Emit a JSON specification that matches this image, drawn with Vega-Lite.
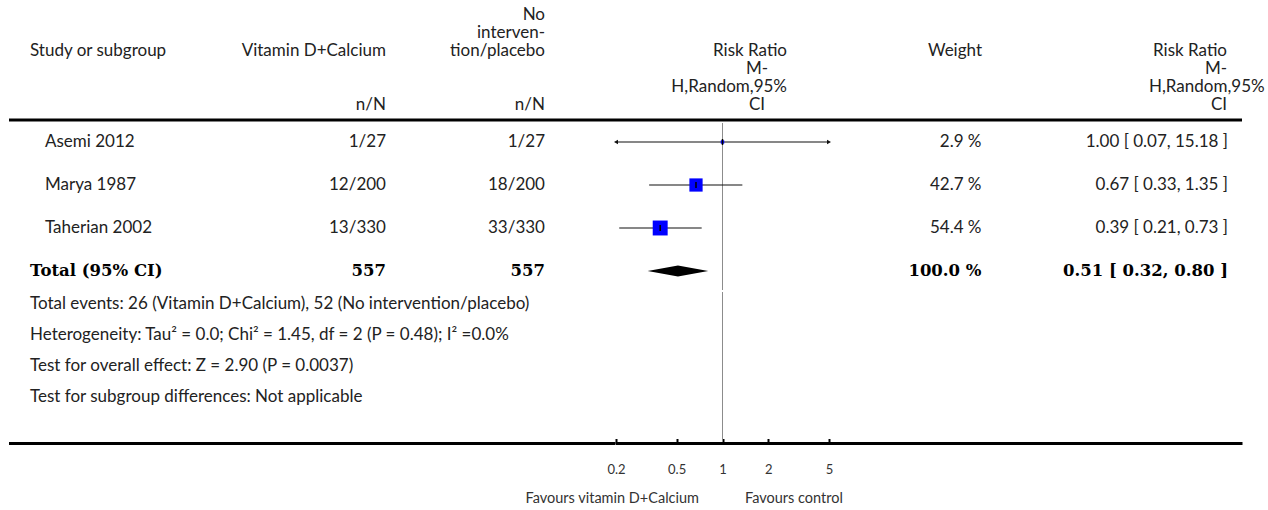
{
  "$schema": "https://vega.github.io/schema/vega-lite/v6.json",
  "padding": {"left": 7, "top": 0, "right": 0, "bottom": 0},
  "background": "white",
  "config": {"view": {"stroke": null}, "font": "Lato", "concat": {"spacing": 0}},
  "datasets": {
    "header": [
      {"col": "study", "line": 3, "text": "Study or subgroup"},
      {"col": "vitd", "line": 3, "text": "Vitamin D+Calcium"},
      {"col": "vitd", "line": 6, "text": "n/N"},
      {"col": "ctrl", "line": 1, "text": "No"},
      {"col": "ctrl", "line": 2, "text": "interven-"},
      {"col": "ctrl", "line": 3, "text": "tion/placebo"},
      {"col": "ctrl", "line": 6, "text": "n/N"},
      {"col": "forest", "line": 3, "text": "Risk Ratio"},
      {"col": "forest", "line": 4, "text": "M-"},
      {"col": "forest", "line": 5, "text": "H,Random,95%"},
      {"col": "forest", "line": 6, "text": "CI"},
      {"col": "weight", "line": 3, "text": "Weight"},
      {"col": "rr", "line": 3, "text": "Risk Ratio"},
      {"col": "rr", "line": 4, "text": "M-"},
      {"col": "rr", "line": 5, "text": "H,Random,95%"},
      {"col": "rr", "line": 6, "text": "CI"}
    ],
    "studies": [
      {"study": "Asemi 2012", "total": false, "n1": "1/27", "n2": "1/27", "rr": 1.0, "lo": 0.07, "hi": 15.18, "weight": 2.9, "wtext": "2.9 %", "ci": "1.00 [ 0.07, 15.18 ]"},
      {"study": "Marya 1987", "total": false, "n1": "12/200", "n2": "18/200", "rr": 0.67, "lo": 0.33, "hi": 1.35, "weight": 42.7, "wtext": "42.7 %", "ci": "0.67 [ 0.33, 1.35 ]"},
      {"study": "Taherian 2002", "total": false, "n1": "13/330", "n2": "33/330", "rr": 0.39, "lo": 0.21, "hi": 0.73, "weight": 54.4, "wtext": "54.4 %", "ci": "0.39 [ 0.21, 0.73 ]"},
      {"study": "Total (95% CI)", "total": true, "n1": "557", "n2": "557", "rr": 0.51, "lo": 0.32, "hi": 0.8, "weight": 100, "wtext": "100.0 %", "ci": "0.51 [ 0.32, 0.80 ]"}
    ],
    "notes": [
      {"line": 1, "text": "Total events: 26 (Vitamin D+Calcium), 52 (No intervention/placebo)"},
      {"line": 2, "text": "Heterogeneity: Tau² = 0.0; Chi² = 1.45, df = 2 (P = 0.48); I² =0.0%"},
      {"line": 3, "text": "Test for overall effect: Z = 2.90 (P = 0.0037)"},
      {"line": 4, "text": "Test for subgroup differences: Not applicable"}
    ],
    "favours": [
      {"kind": "favours", "side": "left", "text": "Favours vitamin D+Calcium"},
      {"kind": "favours", "side": "right", "text": "Favours control"}
    ]
  },
  "vconcat": [
    {
      "hconcat": [
        {"width": 21, "height": 120, "layer": [
          {"data": {"values": [{}]}, "mark": {"type": "rule", "color": "#000", "strokeWidth": 3}, "encoding": {"y": {"value": "height"}}}
        ]},
        {"width": 210, "height": 120, "layer": [
          {"data": {"values": [{}]}, "mark": {"type": "rule", "color": "#000", "strokeWidth": 3}, "encoding": {"y": {"value": "height"}}},
          {"data": {"name": "header"}, "transform": [{"filter": "datum.col == 'study'"}], "mark": {"type": "text", "align": "left", "baseline": "middle", "font": "Lato", "fontSize": 17, "color": "#222"}, "encoding": {"x": {"value": 0}, "y": {"field": "line", "type": "ordinal", "scale": {"type": "point", "domain": [1, 2, 3, 4, 5, 6], "padding": 0.861}, "axis": null}, "text": {"field": "text"}}}
        ]},
        {"width": 146, "height": 120, "layer": [
          {"data": {"values": [{}]}, "mark": {"type": "rule", "color": "#000", "strokeWidth": 3}, "encoding": {"y": {"value": "height"}}},
          {"data": {"name": "header"}, "transform": [{"filter": "datum.col == 'vitd'"}], "mark": {"type": "text", "align": "right", "baseline": "middle", "font": "Lato", "fontSize": 17, "color": "#222"}, "encoding": {"x": {"value": "width"}, "y": {"field": "line", "type": "ordinal", "scale": {"type": "point", "domain": [1, 2, 3, 4, 5, 6], "padding": 0.861}, "axis": null}, "text": {"field": "text"}}}
        ]},
        {"width": 159, "height": 120, "layer": [
          {"data": {"values": [{}]}, "mark": {"type": "rule", "color": "#000", "strokeWidth": 3}, "encoding": {"y": {"value": "height"}}},
          {"data": {"name": "header"}, "transform": [{"filter": "datum.col == 'ctrl'"}], "mark": {"type": "text", "align": "right", "baseline": "middle", "font": "Lato", "fontSize": 17, "color": "#222"}, "encoding": {"x": {"value": "width"}, "y": {"field": "line", "type": "ordinal", "scale": {"type": "point", "domain": [1, 2, 3, 4, 5, 6], "padding": 0.861}, "axis": null}, "text": {"field": "text"}}}
        ]},
        {"width": 182, "height": 120, "layer": [
          {"data": {"values": [{}]}, "mark": {"type": "rule", "color": "#000", "strokeWidth": 3}, "encoding": {"y": {"value": "height"}}}
        ]},
        {"width": 60, "height": 120, "layer": [
          {"data": {"values": [{}]}, "mark": {"type": "rule", "color": "#000", "strokeWidth": 3}, "encoding": {"y": {"value": "height"}}},
          {"data": {"name": "header"}, "transform": [{"filter": "datum.col == 'forest' && (datum.line == 3 || datum.line == 5)"}], "mark": {"type": "text", "align": "right", "baseline": "middle", "font": "Lato", "fontSize": 17, "color": "#222"}, "encoding": {"x": {"value": "width"}, "y": {"field": "line", "type": "ordinal", "scale": {"type": "point", "domain": [1, 2, 3, 4, 5, 6], "padding": 0.861}, "axis": null}, "text": {"field": "text"}}},
          {"data": {"name": "header"}, "transform": [{"filter": "datum.col == 'forest' && (datum.line == 4 || datum.line == 6)"}], "mark": {"type": "text", "align": "center", "baseline": "middle", "font": "Lato", "fontSize": 17, "color": "#222"}, "encoding": {"y": {"field": "line", "type": "ordinal", "scale": {"type": "point", "domain": [1, 2, 3, 4, 5, 6], "padding": 0.861}, "axis": null}, "text": {"field": "text"}}}
        ]},
        {"width": 195, "height": 120, "layer": [
          {"data": {"values": [{}]}, "mark": {"type": "rule", "color": "#000", "strokeWidth": 3}, "encoding": {"y": {"value": "height"}}},
          {"data": {"name": "header"}, "transform": [{"filter": "datum.col == 'weight'"}], "mark": {"type": "text", "align": "right", "baseline": "middle", "font": "Lato", "fontSize": 17, "color": "#222"}, "encoding": {"x": {"value": "width"}, "y": {"field": "line", "type": "ordinal", "scale": {"type": "point", "domain": [1, 2, 3, 4, 5, 6], "padding": 0.861}, "axis": null}, "text": {"field": "text"}}}
        ]},
        {"width": 167, "height": 120, "layer": [
          {"data": {"values": [{}]}, "mark": {"type": "rule", "color": "#000", "strokeWidth": 3}, "encoding": {"y": {"value": "height"}}}
        ]},
        {"width": 78, "height": 120, "layer": [
          {"data": {"values": [{}]}, "mark": {"type": "rule", "color": "#000", "strokeWidth": 3}, "encoding": {"y": {"value": "height"}}},
          {"data": {"name": "header"}, "transform": [{"filter": "datum.col == 'rr' && datum.line != 5"}], "mark": {"type": "text", "align": "right", "baseline": "middle", "font": "Lato", "fontSize": 17, "color": "#222"}, "encoding": {"x": {"value": "width"}, "y": {"field": "line", "type": "ordinal", "scale": {"type": "point", "domain": [1, 2, 3, 4, 5, 6], "padding": 0.861}, "axis": null}, "text": {"field": "text"}}},
          {"data": {"name": "header"}, "transform": [{"filter": "datum.col == 'rr' && datum.line == 5"}], "mark": {"type": "text", "align": "left", "baseline": "middle", "font": "Lato", "fontSize": 17, "color": "#222"}, "encoding": {"x": {"value": 0}, "y": {"field": "line", "type": "ordinal", "scale": {"type": "point", "domain": [1, 2, 3, 4, 5, 6], "padding": 0.861}, "axis": null}, "text": {"field": "text"}}}
        ]},
        {"width": 15, "height": 120, "layer": [
          {"data": {"values": [{}]}, "mark": {"type": "rule", "color": "#000", "strokeWidth": 3}, "encoding": {"y": {"value": "height"}}}
        ]}
      ],
      "spacing": 0,
      "bounds": "flush"
    },
    {
      "hconcat": [
        {"width": 21, "height": 167, "data": {"values": []}, "mark": "point", "encoding": {}},
        {"width": 15, "height": 167, "data": {"name": "studies"}, "transform": [{"filter": "datum.total"}], "mark": {"type": "text", "align": "left", "baseline": "middle", "font": "DejaVu Serif", "fontWeight": "bold", "fontSize": 16.5, "color": "#000"}, "encoding": {"x": {"value": 0}, "y": {"field": "study", "type": "nominal", "sort": null, "scale": {"type": "point", "domain": ["Asemi 2012", "Marya 1987", "Taherian 2002", "Total (95% CI)"], "padding": 0.442}, "axis": null}, "text": {"field": "study"}}},
        {"width": 195, "height": 167, "data": {"name": "studies"}, "transform": [{"filter": "!datum.total"}], "mark": {"type": "text", "align": "left", "baseline": "middle", "font": "Lato", "fontSize": 17, "color": "#222"}, "encoding": {"x": {"value": 0}, "y": {"field": "study", "type": "nominal", "sort": null, "scale": {"type": "point", "domain": ["Asemi 2012", "Marya 1987", "Taherian 2002", "Total (95% CI)"], "padding": 0.442}, "axis": null}, "text": {"field": "study"}}},
        {"width": 146, "height": 167, "data": {"name": "studies"}, "layer": [
          {"transform": [{"filter": "!datum.total"}], "mark": {"type": "text", "align": "right", "baseline": "middle", "font": "Lato", "fontSize": 17, "color": "#222"}, "encoding": {"x": {"value": "width"}, "y": {"field": "study", "type": "nominal", "sort": null, "scale": {"type": "point", "domain": ["Asemi 2012", "Marya 1987", "Taherian 2002", "Total (95% CI)"], "padding": 0.442}, "axis": null}, "text": {"field": "n1"}}},
          {"transform": [{"filter": "datum.total"}], "mark": {"type": "text", "align": "right", "baseline": "middle", "font": "DejaVu Serif", "fontWeight": "bold", "fontSize": 16.5, "color": "#000"}, "encoding": {"x": {"value": "width"}, "y": {"field": "study", "type": "nominal", "sort": null, "scale": {"type": "point", "domain": ["Asemi 2012", "Marya 1987", "Taherian 2002", "Total (95% CI)"], "padding": 0.442}, "axis": null}, "text": {"field": "n1"}}}
        ]},
        {"width": 159, "height": 167, "data": {"name": "studies"}, "layer": [
          {"transform": [{"filter": "!datum.total"}], "mark": {"type": "text", "align": "right", "baseline": "middle", "font": "Lato", "fontSize": 17, "color": "#222"}, "encoding": {"x": {"value": "width"}, "y": {"field": "study", "type": "nominal", "sort": null, "scale": {"type": "point", "domain": ["Asemi 2012", "Marya 1987", "Taherian 2002", "Total (95% CI)"], "padding": 0.442}, "axis": null}, "text": {"field": "n2"}}},
          {"transform": [{"filter": "datum.total"}], "mark": {"type": "text", "align": "right", "baseline": "middle", "font": "DejaVu Serif", "fontWeight": "bold", "fontSize": 16.5, "color": "#000"}, "encoding": {"x": {"value": "width"}, "y": {"field": "study", "type": "nominal", "sort": null, "scale": {"type": "point", "domain": ["Asemi 2012", "Marya 1987", "Taherian 2002", "Total (95% CI)"], "padding": 0.442}, "axis": null}, "text": {"field": "n2"}}}
        ]},
        {"width": 70.5, "height": 167, "data": {"values": []}, "mark": "point", "encoding": {}},
        {"width": 213, "height": 167, "data": {"name": "studies"}, "layer": [
          {"mark": {"type": "rule", "color": "#8c8c8c", "strokeWidth": 1}, "encoding": {"x": {"datum": 1, "type": "quantitative", "scale": {"type": "log", "domain": [0.2, 5], "nice": false, "clamp": true}, "axis": null}}},
          {"transform": [{"filter": "!datum.total"}], "mark": {"type": "rule", "color": "#111", "strokeWidth": 1.2}, "encoding": {"x": {"field": "lo", "type": "quantitative", "scale": {"type": "log", "domain": [0.2, 5], "nice": false, "clamp": true}, "axis": null}, "x2": {"field": "hi"}, "y": {"field": "study", "type": "nominal", "sort": null, "scale": {"type": "point", "domain": ["Asemi 2012", "Marya 1987", "Taherian 2002", "Total (95% CI)"], "padding": 0.442}, "axis": null}}},
          {"transform": [{"filter": "datum.lo < 0.2"}], "mark": {"type": "point", "shape": "triangle-left", "filled": true, "color": "#111", "opacity": 1, "size": 22}, "encoding": {"x": {"field": "lo", "type": "quantitative", "axis": null}, "y": {"field": "study", "type": "nominal", "sort": null, "axis": null}}},
          {"transform": [{"filter": "datum.hi > 5"}], "mark": {"type": "point", "shape": "triangle-right", "filled": true, "color": "#111", "opacity": 1, "size": 22}, "encoding": {"x": {"field": "hi", "type": "quantitative", "axis": null}, "y": {"field": "study", "type": "nominal", "sort": null, "axis": null}}},
          {"transform": [{"filter": "!datum.total"}], "mark": {"type": "point", "shape": "square", "filled": true, "color": "#0000ff", "opacity": 1}, "encoding": {"x": {"field": "rr", "type": "quantitative", "axis": null}, "y": {"field": "study", "type": "nominal", "sort": null, "axis": null}, "size": {"field": "weight", "type": "quantitative", "scale": {"type": "linear", "domain": [0, 100], "range": [0, 410]}, "legend": null}}},
          {"transform": [{"filter": "!datum.total"}], "mark": {"type": "tick", "orient": "vertical", "color": "#000", "size": 6, "thickness": 1.5, "opacity": 1}, "encoding": {"x": {"field": "rr", "type": "quantitative", "axis": null}, "y": {"field": "study", "type": "nominal", "sort": null, "axis": null}}},
          {"transform": [{"filter": "datum.total"}], "mark": {"type": "point", "shape": "M-1,0L0,-0.18L1,0L0,0.18Z", "filled": true, "color": "#000", "opacity": 1, "size": 3672}, "encoding": {"x": {"field": "rr", "type": "quantitative", "axis": null}, "y": {"field": "study", "type": "nominal", "sort": null, "axis": null}}}
        ]},
        {"width": 152.5, "height": 167, "data": {"name": "studies"}, "layer": [
          {"transform": [{"filter": "!datum.total"}], "mark": {"type": "text", "align": "right", "baseline": "middle", "font": "Lato", "fontSize": 17, "color": "#222"}, "encoding": {"x": {"value": "width"}, "y": {"field": "study", "type": "nominal", "sort": null, "scale": {"type": "point", "domain": ["Asemi 2012", "Marya 1987", "Taherian 2002", "Total (95% CI)"], "padding": 0.442}, "axis": null}, "text": {"field": "wtext"}}},
          {"transform": [{"filter": "datum.total"}], "mark": {"type": "text", "align": "right", "baseline": "middle", "font": "DejaVu Serif", "fontWeight": "bold", "fontSize": 16.5, "color": "#000"}, "encoding": {"x": {"value": "width"}, "y": {"field": "study", "type": "nominal", "sort": null, "scale": {"type": "point", "domain": ["Asemi 2012", "Marya 1987", "Taherian 2002", "Total (95% CI)"], "padding": 0.442}, "axis": null}, "text": {"field": "wtext"}}}
        ]},
        {"width": 246, "height": 167, "data": {"name": "studies"}, "layer": [
          {"transform": [{"filter": "!datum.total"}], "mark": {"type": "text", "align": "right", "baseline": "middle", "font": "Lato", "fontSize": 17, "color": "#222"}, "encoding": {"x": {"value": "width"}, "y": {"field": "study", "type": "nominal", "sort": null, "scale": {"type": "point", "domain": ["Asemi 2012", "Marya 1987", "Taherian 2002", "Total (95% CI)"], "padding": 0.442}, "axis": null}, "text": {"field": "ci"}}},
          {"transform": [{"filter": "datum.total"}], "mark": {"type": "text", "align": "right", "baseline": "middle", "font": "DejaVu Serif", "fontWeight": "bold", "fontSize": 16.5, "color": "#000"}, "encoding": {"x": {"value": "width"}, "y": {"field": "study", "type": "nominal", "sort": null, "scale": {"type": "point", "domain": ["Asemi 2012", "Marya 1987", "Taherian 2002", "Total (95% CI)"], "padding": 0.442}, "axis": null}, "text": {"field": "ci"}}}
        ]}
      ],
      "spacing": 0,
      "bounds": "flush"
    },
    {
      "hconcat": [
        {"width": 21, "height": 151.5, "layer": [
          {"data": {"values": [{}]}, "mark": {"type": "rule", "color": "#000", "strokeWidth": 3}, "encoding": {"y": {"value": "height"}}}
        ]},
        {"width": 585.5, "height": 151.5, "layer": [
          {"data": {"values": [{}]}, "mark": {"type": "rule", "color": "#000", "strokeWidth": 3}, "encoding": {"y": {"value": "height"}}},
          {"data": {"name": "notes"}, "mark": {"type": "text", "align": "left", "baseline": "middle", "font": "Lato", "fontSize": 17, "color": "#222"}, "encoding": {"x": {"value": 0}, "y": {"field": "line", "type": "ordinal", "scale": {"type": "point", "domain": [1, 2, 3, 4], "padding": 0.944, "align": 0.197}, "axis": null}, "text": {"field": "text"}}}
        ]},
        {"width": 213, "height": 151.5, "layer": [
          {"data": {"values": [{}]}, "mark": {"type": "rule", "color": "#8c8c8c", "strokeWidth": 1}, "encoding": {"x": {"datum": 1, "type": "quantitative", "scale": {"type": "log", "domain": [0.2, 5], "nice": false}, "axis": {"values": [0.2, 0.5, 1, 2, 5], "format": "~g", "title": null, "domain": false, "grid": false, "ticks": true, "tickSize": -5, "tickWidth": 2, "tickColor": "#000", "labelPadding": 25, "labelFlush": false, "labelOverlap": false, "labelFont": "Lato", "labelFontSize": 13, "labelColor": "#333"}}}},
          {"data": {"values": [{}]}, "mark": {"type": "rule", "color": "#000", "strokeWidth": 3}, "encoding": {"y": {"value": "height"}}}
        ]},
        {"width": 413.5, "height": 151.5, "layer": [
          {"data": {"values": [{}]}, "mark": {"type": "rule", "color": "#000", "strokeWidth": 3}, "encoding": {"y": {"value": "height"}}}
        ]}
      ],
      "spacing": 0,
      "bounds": "flush"
    },
    {
      "hconcat": [
        {"width": 690, "height": 36, "data": {"name": "favours"}, "transform": [{"filter": "datum.side == 'left'"}], "mark": {"type": "text", "align": "right", "baseline": "middle", "font": "Lato", "fontSize": 14.5, "color": "#333"}, "encoding": {"x": {"value": "width"}, "y": {"field": "kind", "type": "nominal", "scale": {"type": "point", "domain": ["favours"], "padding": 0.5, "align": 0.6}, "axis": null}, "text": {"field": "text"}}},
        {"width": 46, "height": 36, "data": {"values": []}, "mark": "point", "encoding": {}},
        {"width": 300, "height": 36, "data": {"name": "favours"}, "transform": [{"filter": "datum.side == 'right'"}], "mark": {"type": "text", "align": "left", "baseline": "middle", "font": "Lato", "fontSize": 14.5, "color": "#333"}, "encoding": {"x": {"value": 0}, "y": {"field": "kind", "type": "nominal", "scale": {"type": "point", "domain": ["favours"], "padding": 0.5, "align": 0.6}, "axis": null}, "text": {"field": "text"}}}
      ],
      "spacing": 0,
      "bounds": "flush"
    }
  ],
  "spacing": 0
}
